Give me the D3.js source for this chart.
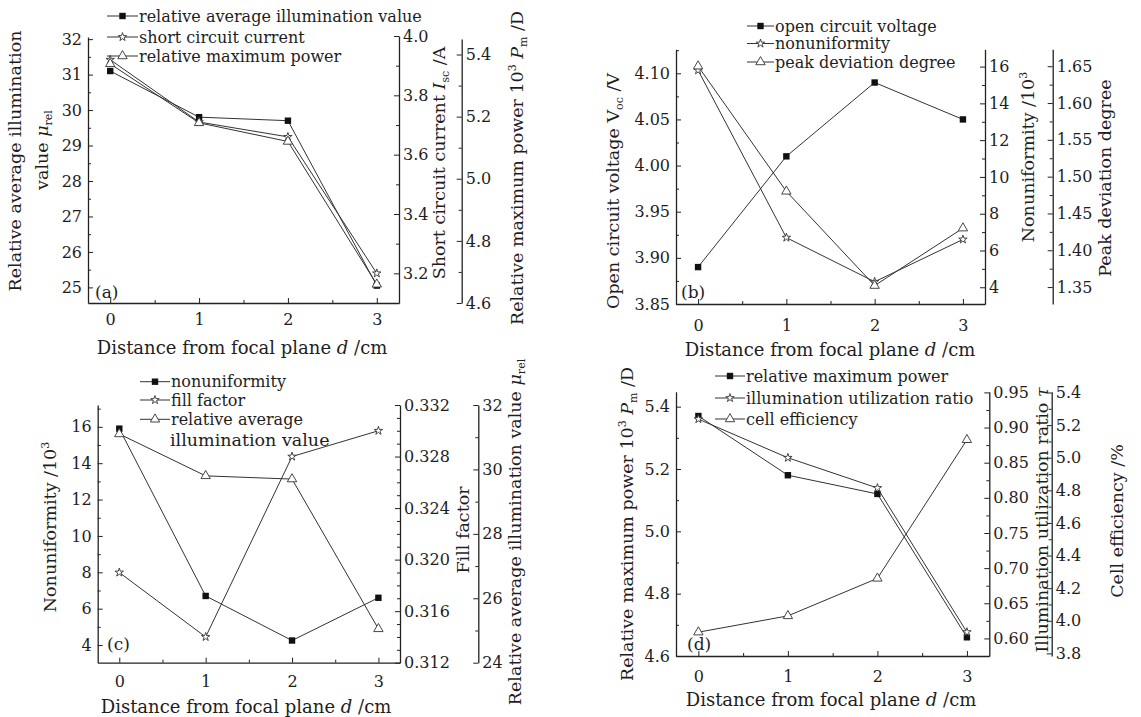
<!DOCTYPE html>
<html>
<head>
<meta charset="utf-8">
<script src="https://cdn.jsdelivr.net/npm/d3@7"></script>
<style>
  body { margin: 0; background: #fff; }
  svg text { font-family: "DejaVu Serif", serif; fill: #1e1e1e; }
</style>
</head>
<body>
<div id="chart"></div>
<script>
// ---- data ----
const distance = [0, 1, 2, 3];
const illumination   = [31.1, 29.8, 29.7, 25.05];   // mu_rel
const shortCircuit   = [3.92, 3.71, 3.66, 3.20];    // I_sc /A
const maxPower       = [5.37, 5.18, 5.12, 4.66];    // 10^3 Pm /D
const openVoltage    = [3.89, 4.01, 4.09, 4.05];    // V_oc /V
const nonuniformityB = [15.8, 6.7, 4.3, 6.6];
const nonuniformityC = [15.9, 6.7, 4.25, 6.6];
const peakDeviation  = [1.65, 1.48, 1.352, 1.43];
const fillFactor     = [0.319, 0.314, 0.328, 0.330];
const utilization    = [0.912, 0.857, 0.814, 0.609];
const efficiency     = [3.93, 4.03, 4.26, 5.11];

// tick values
const ticksMu   = [25, 26, 27, 28, 29, 30, 31, 32];
const ticksIsc  = [3.2, 3.4, 3.6, 3.8, 4.0];
const ticksPm   = [4.6, 4.8, 5.0, 5.2, 5.4];
const ticksVoc  = [3.85, 3.90, 3.95, 4.00, 4.05, 4.10];
const ticksNon  = [4, 6, 8, 10, 12, 14, 16];
const ticksPeak = [1.35, 1.40, 1.45, 1.50, 1.55, 1.60, 1.65];
const ticksFF   = [0.312, 0.316, 0.320, 0.324, 0.328, 0.332];
const ticksMu2  = [24, 26, 28, 30, 32];
const ticksTau  = [0.60, 0.65, 0.70, 0.75, 0.80, 0.85, 0.90, 0.95];
const ticksEff  = [3.8, 4.0, 4.2, 4.4, 4.6, 4.8, 5.0, 5.2, 5.4];

const W = 1141, H = 717;
const svg = d3.select('#chart').append('svg')
  .attr('width', W).attr('height', H);
svg.append('rect').attr('width', W).attr('height', H).attr('fill', '#fff');

const ink = '#222';

/* rich text: parts with italic / sub / sup */
function rich(sel, parts) {
  let shift = 0;
  parts.forEach(p => {
    const ts = sel.append('tspan').text(p.t);
    const target = p.sub ? 4 : (p.sup ? -7 : 0);
    if (target !== shift) { ts.attr('dy', target - shift); shift = target; }
    if (p.sub || p.sup) ts.attr('font-size', '11px');
    if (p.i) ts.attr('font-style', 'italic');
  });
}

function marker(g, type, cx, cy) {
  if (type === 'square') {
    g.append('rect').attr('x', cx - 3.2).attr('y', cy - 3.2)
      .attr('width', 6.4).attr('height', 6.4).attr('fill', '#111');
  } else if (type === 'star') {
    g.append('path').attr('d', d3.symbol(d3.symbolStar, 22)())
      .attr('transform', `translate(${cx},${cy})`)
      .attr('fill', '#fff').attr('stroke', '#333').attr('stroke-width', 0.9);
  } else {
    g.append('path').attr('d', d3.symbol(d3.symbolTriangle, 38)())
      .attr('transform', `translate(${cx},${cy})`)
      .attr('fill', '#fff').attr('stroke', '#333').attr('stroke-width', 0.9);
  }
}

const panels = [
  { letter: '(a)', left: 88, right: 399, bottom: 303, xPad: 11,
    letterPos: [95, 292], xTitle: [242, 348],
    axes: [
      { pos: 'left',  x: 88,    range: [303, 37], domain: [24.56, 32.06], ticks: ticksMu,  minor: d3.range(25.5, 32, 1), fmt: 'd' },
      { pos: 'right', x: 399,   range: [303, 36], domain: [3.1, 4.0],     ticks: ticksIsc, minor: [3.3, 3.5, 3.7, 3.9], fmt: '.1f' },
      { pos: 'right', x: 461.7, range: [303, 39], domain: [4.6, 5.45],    ticks: ticksPm,  minor: [4.7, 4.9, 5.1, 5.3], fmt: '.1f' }
    ],
    titles: [
      { x: 15,  y: 161, parts: [{ t: 'Relative average illumination' }] },
      { x: 42,  y: 150, parts: [{ t: 'value ' }, { t: 'μ', i: 1 }, { t: 'rel', sub: 1 }] },
      { x: 439, y: 163, parts: [{ t: 'Short circuit current ' }, { t: 'I', i: 1 }, { t: 'sc', sub: 1 }, { t: ' /A' }] },
      { x: 517, y: 168, parts: [{ t: 'Relative maximum power 10' }, { t: '3', sup: 1 }, { t: ' ' }, { t: 'P', i: 1 }, { t: 'm', sub: 1 }, { t: ' /D' }] }
    ],
    series: [
      { values: illumination, axis: 0, mark: 'square',   name: 'relative average illumination value' },
      { values: shortCircuit, axis: 1, mark: 'star',     name: 'short circuit current' },
      { values: maxPower,     axis: 2, mark: 'triangle', name: 'relative maximum power' }
    ],
    legend: { x: 107, w: 31, ys: [16, 37, 56] }
  },
  { letter: '(b)', left: 676, right: 985, bottom: 304, xPad: 16,
    letterPos: [681, 292], xTitle: [830, 350],
    axes: [
      { pos: 'left',  x: 676,    range: [304, 49.3], domain: [3.85, 4.126], ticks: ticksVoc,  minor: [3.875, 3.925, 3.975, 4.025, 4.075, 4.125], fmt: '.2f' },
      { pos: 'right', x: 985,    range: [304, 49.3], domain: [3.09, 16.94], ticks: ticksNon,  minor: [5, 7, 9, 11, 13, 15], fmt: 'd' },
      { pos: 'right', x: 1052.7, range: [304, 49.3], domain: [1.327, 1.673], ticks: ticksPeak, minor: [1.375, 1.425, 1.475, 1.525, 1.575, 1.625], fmt: '.2f' }
    ],
    titles: [
      { x: 613,  y: 191, parts: [{ t: 'Open circuit voltage V' }, { t: 'oc', sub: 1 }, { t: ' /V' }] },
      { x: 1028, y: 157, parts: [{ t: 'Nonuniformity /10' }, { t: '3', sup: 1 }] },
      { x: 1105, y: 178, parts: [{ t: 'Peak deviation degree' }] }
    ],
    series: [
      { values: openVoltage,    axis: 0, mark: 'square',   name: 'open circuit voltage' },
      { values: nonuniformityB, axis: 1, mark: 'star',     name: 'nonuniformity' },
      { values: peakDeviation,  axis: 2, mark: 'triangle', name: 'peak deviation degree' }
    ],
    legend: { x: 747, w: 27, ys: [26, 43.5, 62] }
  },
  { letter: '(c)', left: 97.7, right: 400, bottom: 662.7, xPad: 13,
    letterPos: [107, 644], xTitle: [246, 707],
    axes: [
      { pos: 'left',  x: 97.7,  range: [662.7, 405], domain: [3.03, 17.2],    ticks: ticksNon, minor: [5, 7, 9, 11, 13, 15, 17], fmt: 'd' },
      { pos: 'right', x: 400,   range: [662.7, 405], domain: [0.312, 0.332],  ticks: ticksFF,  minor: d3.range(0.313, 0.3315, 0.001).filter(v => Math.round(v * 1000) % 4 !== 0), fmt: '.3f' },
      { pos: 'right', x: 478.3, range: [662.7, 405], domain: [24, 32],        ticks: ticksMu2, minor: [25, 27, 29, 31], fmt: 'd' }
    ],
    titles: [
      { x: 50,  y: 527, parts: [{ t: 'Nonuniformity /10' }, { t: '3', sup: 1 }] },
      { x: 463, y: 530, parts: [{ t: 'Fill factor' }] },
      { x: 515, y: 532, parts: [{ t: 'Relative average illumination value ' }, { t: 'μ', i: 1 }, { t: 'rel', sub: 1 }] }
    ],
    series: [
      { values: nonuniformityC, axis: 0, mark: 'square',   name: 'nonuniformity' },
      { values: fillFactor,     axis: 1, mark: 'star',     name: 'fill factor' },
      { values: illumination,   axis: 2, mark: 'triangle', name: 'relative average' }
    ],
    legend: { x: 140, w: 30, ys: [381.7, 400, 419.3], extra: { text: 'illumination value', y: 439.5 } }
  },
  { letter: '(d)', left: 676, right: 989.3, bottom: 656, xPad: 15,
    letterPos: [687, 644], xTitle: [831, 700],
    axes: [
      { pos: 'left',  x: 676,    range: [656, 391.7], domain: [4.6, 5.448],  ticks: ticksPm,  minor: [4.7, 4.9, 5.1, 5.3], fmt: '.1f' },
      { pos: 'right', x: 989.3,  range: [656, 391.7], domain: [0.575, 0.951], ticks: ticksTau, minor: [0.625, 0.675, 0.725, 0.775, 0.825, 0.875, 0.925], fmt: '.2f' },
      { pos: 'right', x: 1051.7, range: [656, 391.7], domain: [3.784, 5.405], ticks: ticksEff, minor: [3.9, 4.1, 4.3, 4.5, 4.7, 4.9, 5.1, 5.3], fmt: '.1f' }
    ],
    titles: [
      { x: 627,  y: 524, parts: [{ t: 'Relative maximum power 10' }, { t: '3', sup: 1 }, { t: ' ' }, { t: 'P', i: 1 }, { t: 'm', sub: 1 }, { t: ' /D' }] },
      { x: 1042, y: 520, parts: [{ t: 'Illumination utilization ratio ' }, { t: 'τ', i: 1 }] },
      { x: 1117, y: 521, parts: [{ t: 'Cell efficiency /%' }] }
    ],
    series: [
      { values: maxPower,    axis: 0, mark: 'square',   name: 'relative maximum power' },
      { values: utilization, axis: 1, mark: 'star',     name: 'illumination utilization ratio' },
      { values: efficiency,  axis: 2, mark: 'triangle', name: 'cell efficiency' }
    ],
    legend: { x: 715, w: 30, ys: [376, 398, 419] }
  }
];

panels.forEach(p => {
  const g = svg.append('g');
  const x = d3.scaleLinear().domain([-0.25, 3.25]).range([p.left, p.right]);

  /* x axis */
  g.append('g').attr('transform', `translate(0,${p.bottom})`)
    .call(d3.axisBottom(x).tickValues(distance).tickFormat(d3.format('d'))
      .tickSizeInner(-5).tickSizeOuter(0).tickPadding(p.xPad))
    .call(ax => ax.select('.domain').attr('stroke', ink).attr('stroke-width', 1.3))
    .call(ax => ax.selectAll('.tick line').attr('stroke', ink))
    .selectAll('text').style('font-size', '16px').attr('fill', '#1e1e1e');
  g.append('g').attr('transform', `translate(0,${p.bottom})`)
    .call(d3.axisBottom(x).tickValues([0.5, 1.5, 2.5]).tickFormat('')
      .tickSizeInner(-3).tickSizeOuter(0))
    .call(ax => ax.select('.domain').remove())
    .call(ax => ax.selectAll('.tick line').attr('stroke', ink));

  g.append('text')
    .attr('x', p.xTitle[0]).attr('y', p.xTitle[1]).attr('dy', '0.35em')
    .attr('text-anchor', 'middle').style('font-size', '18px')
    .call(t => rich(t, [{ t: 'Distance from focal plane ' }, { t: 'd', i: 1 }, { t: ' /cm' }]));

  /* y axes */
  const scales = p.axes.map(a => {
    const y = d3.scaleLinear().domain(a.domain).range(a.range);
    const make = a.pos === 'left' ? d3.axisLeft : d3.axisRight;
    g.append('g').attr('transform', `translate(${a.x},0)`)
      .call(make(y).tickValues(a.ticks).tickFormat(d3.format(a.fmt))
        .tickSizeInner(-5).tickSizeOuter(0).tickPadding(a.pos === 'left' ? 6 : 4))
      .call(ax => ax.select('.domain').attr('stroke', ink).attr('stroke-width', 1.3))
      .call(ax => ax.selectAll('.tick line').attr('stroke', ink))
      .selectAll('text').style('font-size', '16px').attr('fill', '#1e1e1e');
    g.append('g').attr('transform', `translate(${a.x},0)`)
      .call(make(y).tickValues(a.minor).tickFormat('').tickSizeInner(-3).tickSizeOuter(0))
      .call(ax => ax.select('.domain').remove())
      .call(ax => ax.selectAll('.tick line').attr('stroke', ink));
    return y;
  });

  p.titles.forEach(t => {
    g.append('text')
      .attr('transform', `translate(${t.x},${t.y}) rotate(-90)`)
      .attr('dy', '0.35em').attr('text-anchor', 'middle')
      .style('font-size', '17.5px')
      .call(s => rich(s, t.parts));
  });

  /* series */
  p.series.forEach(s => {
    const y = scales[s.axis];
    const pts = distance.map((d, i) => [x(d), y(s.values[i])]);
    g.append('path').attr('d', d3.line()(pts))
      .attr('fill', 'none').attr('stroke', '#333').attr('stroke-width', 1);
  });
  p.series.forEach(s => {
    const y = scales[s.axis];
    distance.forEach((d, i) => marker(g, s.mark, x(d), y(s.values[i])));
  });

  /* legend */
  const L = p.legend;
  p.series.forEach((s, i) => {
    const yy = L.ys[i];
    g.append('line').attr('x1', L.x).attr('x2', L.x + L.w)
      .attr('y1', yy).attr('y2', yy).attr('stroke', '#333').attr('stroke-width', 1);
    marker(g, s.mark, L.x + L.w / 2, yy);
    g.append('text').attr('x', L.x + L.w + 1).attr('y', yy).attr('dy', '0.35em')
      .style('font-size', '16px').text(s.name);
  });
  if (L.extra) {
    g.append('text').attr('x', L.x + L.w).attr('y', L.extra.y).attr('dy', '0.35em')
      .style('font-size', '17.5px').text(L.extra.text);
  }

  g.append('text').attr('x', p.letterPos[0]).attr('y', p.letterPos[1]).attr('dy', '0.35em')
    .style('font-size', '17px').text(p.letter);
});
</script>
</body>
</html>
